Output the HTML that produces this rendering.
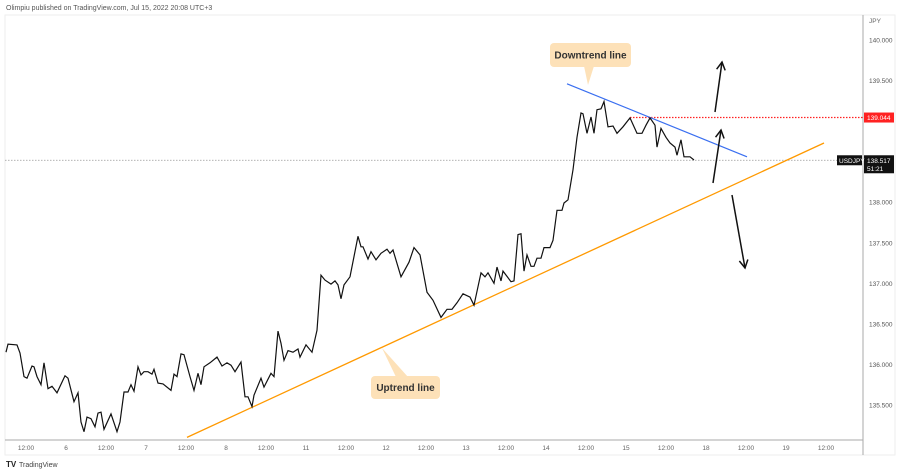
<!DOCTYPE html>
<html><head><meta charset="utf-8"><style>
body{margin:0;background:#fff;font-family:"Liberation Sans",sans-serif}
svg{display:block}
</style></head><body>
<svg id="chart" width="900" height="475" viewBox="0 0 900 475" xmlns="http://www.w3.org/2000/svg">
<text x="6" y="10" font-size="7" fill="#555">Olimpiu published on TradingView.com, Jul 15, 2022 20:08 UTC+3</text>
<rect x="5" y="15" width="890" height="440" fill="none" stroke="#eee"/>
<line x1="863" y1="15" x2="863" y2="455" stroke="#aaa"/>
<line x1="5" y1="440" x2="863" y2="440" stroke="#aaa"/>
<text x="869" y="23" font-size="6.5" fill="#666">JPY</text>
<g id="yticks"></g><g id="xticks"></g>
<g id="overlays"></g>
<path id="price" fill="none" stroke="#111" stroke-width="1.2"/>
<g id="annot"></g>
<g><text x="6" y="467" font-size="8" font-weight="bold" fill="#222">TV</text><text x="19" y="467" font-size="7" fill="#444">TradingView</text></g>
</svg>
<script>
const hours=[-6,-5.4,-2.7,-1.8,-0.6,0.3,1.8,2.4,3.3,4.5,5.4,6.6,7.8,9.3,11.7,12.6,14.4,15.6,16.5,17.4,18.3,19.5,20.7,21.6,22.5,23.4,25.5,27.3,28.2,29.4,30.6,31.5,32.4,33.6,34.5,35.4,36.6,37.8,38.4,39.6,41.1,43.5,44.4,45.3,46.5,47.4,49.2,50.4,51.6,52.5,53.4,55.2,57.3,58.8,60.3,61.5,62.7,64.5,65.7,66.6,67.8,68.4,70.5,71.4,73.5,74.4,75.6,76.5,77.4,78.6,80.1,81.6,82.2,84,85.8,87.3,88.5,89.7,91.5,92.7,93.6,94.5,95.4,97.2,99.6,100.5,101.1,102.6,103.5,105,106.5,108.3,109.2,110.1,112.5,114.9,116.4,118.2,120.3,122.1,124.5,126.3,127.8,129.3,131.1,133.2,134.4,136.5,137.7,138.6,140.4,141.3,142.5,143.1,145.5,146.4,147.6,148.5,149.4,150.3,151.5,152.4,153.3,154.5,155.4,157.2,158.1,159.3,160.8,161.4,162.6,164.1,165.3,166.5,167.1,168.3,169.5,170.4,171.3,172.5,173.4,174.6,176.1,177.3,179.1,181.2,183.3,184.8,186,187.2,188.7,189.3,190.5,192,193.2,194.7,195.3,196.5,197.4,199.2,200.4];
const prices=[136.15,136.25,136.24,136.14,135.85,135.83,135.98,135.97,135.85,135.75,136.02,135.70,135.73,135.65,135.86,135.83,135.54,135.65,135.29,135.17,135.35,135.33,135.23,135.40,135.41,135.20,135.39,135.17,135.29,135.66,135.66,135.75,135.67,135.97,135.87,135.91,135.91,135.88,135.94,135.77,135.76,135.68,135.88,135.85,136.13,136.12,135.85,135.68,135.89,135.75,135.97,136.02,136.09,135.98,136.02,135.99,135.91,136.03,135.60,135.60,135.48,135.62,135.83,135.72,135.89,135.85,136.41,136.26,136.05,136.17,136.15,136.19,136.09,136.24,136.15,136.42,137.10,137.04,136.99,137.03,136.98,136.81,136.98,137.08,137.58,137.45,137.45,137.30,137.39,137.29,137.37,137.42,137.37,137.41,137.08,137.26,137.44,137.35,136.89,136.79,136.58,136.68,136.68,136.76,136.87,136.83,136.73,137.13,137.08,137.13,137.00,137.20,137.03,137.15,137.02,137.03,137.60,137.61,137.15,137.35,137.21,137.21,137.31,137.31,137.44,137.44,137.53,137.90,137.90,137.99,138.03,138.40,138.80,139.10,139.09,138.85,139.05,138.85,139.14,139.15,139.24,138.93,138.94,138.85,138.93,139.04,138.85,138.85,138.95,139.04,138.95,138.68,138.91,138.80,138.73,138.68,138.58,138.77,138.56,138.56,138.52];
const yTickValues=[140,139.5,138,137.5,137,136.5,136,135.5];
const yTickLabels=["140.000","139.500","138.000","137.500","137.000","136.500","136.000","135.500"];
const xTickLabels=["12:00","6","12:00","7","12:00","8","12:00","11","12:00","12","12:00","13","12:00","14","12:00","15","12:00","18","12:00","19","12:00"];
const lastPrice=138.517, highLevel=139.044;
const uptrend=[[48.3,135.10],[239.4,138.73]];
const downtrend=[[162.3,139.46],[216.3,138.56]];
const NS="http://www.w3.org/2000/svg";
const X=h=>26+h/0.3;
const Y=p=>40+(140-p)*81.1;
function mk(tag,attrs,parent,text){const e=document.createElementNS(NS,tag);for(const k in attrs)e.setAttribute(k,attrs[k]);if(text!==undefined)e.textContent=text;parent.appendChild(e);return e;}
const yg=document.getElementById('yticks');
yTickValues.forEach((v,i)=>{const t=mk('text',{x:869,y:Y(v)+2.5,'font-size':6.5,fill:'#555'},yg,yTickLabels[i]);

});
const xg=document.getElementById('xticks');
xTickLabels.forEach((l,i)=>{const t=mk('text',{x:X(i*12),y:450,'font-size':6.5,fill:'#666','text-anchor':'middle'},xg,l);

});
const ov=document.getElementById('overlays');
const g1=mk('line',{x1:5,y1:Y(lastPrice),x2:863,y2:Y(lastPrice),stroke:'#999','stroke-width':0.8,'stroke-dasharray':'1.5 1.5'},ov);


const r1=mk('line',{x1:630,y1:Y(highLevel),x2:863,y2:Y(highLevel),stroke:'#f22','stroke-width':1.2,'stroke-dasharray':'1.5 1.5'},ov);


const up=mk('line',{x1:X(uptrend[0][0]),y1:Y(uptrend[0][1]),x2:X(uptrend[1][0]),y2:Y(uptrend[1][1]),stroke:'#f90','stroke-width':1.3},ov);


const dn=mk('line',{x1:X(downtrend[0][0]),y1:Y(downtrend[0][1]),x2:X(downtrend[1][0]),y2:Y(downtrend[1][1]),stroke:'#3a6ff0','stroke-width':1.2},ov);


let d='';hours.forEach((h,i)=>{d+=(i?'L':'M')+X(h).toFixed(1)+' '+Y(prices[i]).toFixed(1);});
document.getElementById('price').setAttribute('d',d);
const an=document.getElementById('annot');
const tagR=mk('g',{},an);


mk('rect',{x:864,y:Y(highLevel)-5,width:30,height:10,fill:'#f22'},tagR);
mk('text',{x:867,y:Y(highLevel)+2.5,'font-size':6.5,fill:'#fff'},tagR,'139.044');
const tagL=mk('g',{},an);


mk('rect',{x:864,y:Y(lastPrice)-5,width:30,height:18,fill:'#111'},tagL);
mk('text',{x:867,y:Y(lastPrice)+2.5,'font-size':6.5,fill:'#fff'},tagL,'138.517');
mk('text',{x:867,y:Y(lastPrice)+10.5,'font-size':6.5,fill:'#fff'},tagL,'51:21');
const sym=mk('g',{},an);


mk('rect',{x:837,y:Y(lastPrice)-5,width:25,height:10,fill:'#111'},sym);
mk('text',{x:839,y:Y(lastPrice)+2.5,'font-size':6.5,fill:'#fff'},sym,'USDJPY');
function arrow(x1,y1,x2,y2,name){const g=mk('g',{stroke:'#111','stroke-width':1.5,fill:'none'},an);


mk('line',{x1,y1,x2,y2},g);const a=Math.atan2(y2-y1,x2-x1),L=9;
mk('polyline',{points:`${x2-L*Math.cos(a-0.5)},${y2-L*Math.sin(a-0.5)} ${x2},${y2} ${x2-L*Math.cos(a+0.5)},${y2-L*Math.sin(a+0.5)}`},g);}
arrow(715,112,722,62,'breakout-arrow-top');
arrow(713,183,721,130,'breakout-arrow');
arrow(732,195,745,268,'breakdown-arrow');
function callout(bx,by,w,h,px,py,bxa,bxb,txt,name){const g=mk('g',{},an);


mk('polygon',{points:`${bxa},${by<py?by+h-1:by+1} ${bxb},${by<py?by+h-1:by+1} ${px},${py}`,fill:'#fde1b8'},g);
mk('rect',{x:bx,y:by,width:w,height:h,rx:4,fill:'#fde1b8'},g);
mk('text',{x:bx+w/2,y:by+h/2+3.5,'font-size':10,'font-weight':'bold',fill:'#333','text-anchor':'middle'},g,txt);}
callout(550,43,81,24,588,85,584,594,'Downtrend line','downtrend-callout');
callout(371,376,69,23,382,348,396,408,'Uptrend line','uptrend-callout');
</script>
</body></html>
